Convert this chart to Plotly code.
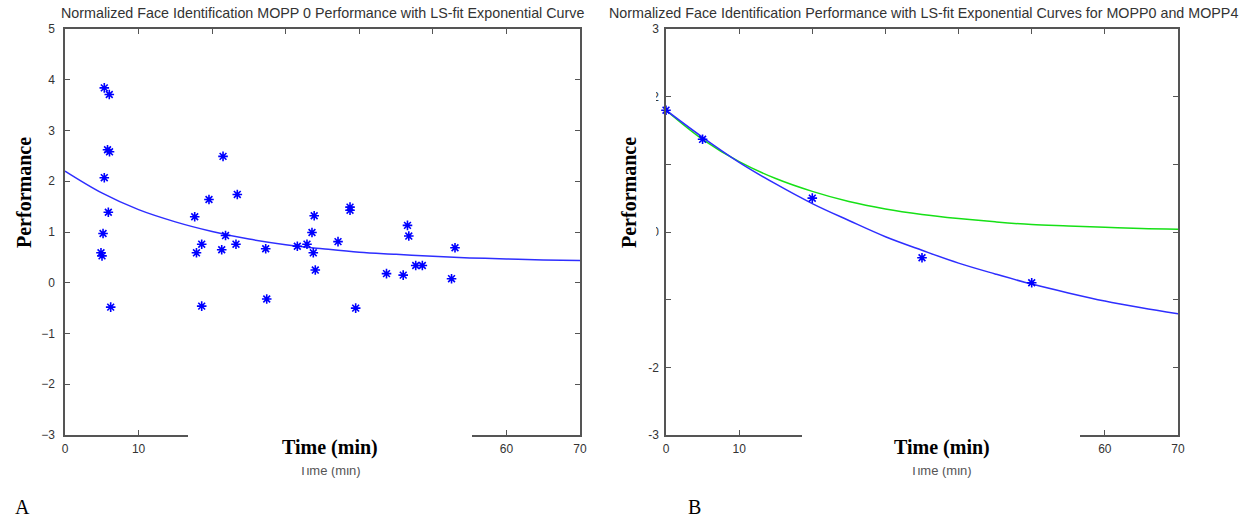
import plotly.graph_objects as go

# ---------------- data ----------------
# Panel A: MOPP 0 normalized performance vs time
a_time = [5.34, 6.02, 5.78, 6.05, 5.34, 5.89, 5.17, 4.89, 5.03, 6.21,
          17.63, 17.87, 18.58, 18.58, 19.57, 21.48, 21.82, 21.30, 23.24, 23.42,
          27.28, 27.42, 31.58, 32.89, 33.57, 33.87, 33.75, 34.02, 37.11, 38.74,
          38.74, 39.51, 43.70, 45.97, 46.55, 46.73, 47.67, 48.57, 52.54, 53.01]
a_perf = [3.84, 3.71, 2.62, 2.58, 2.07, 1.39, 0.97, 0.59, 0.53, -0.48,
          1.30, 0.59, 0.76, -0.46, 1.64, 2.49, 0.93, 0.65, 0.76, 1.74,
          0.67, -0.32, 0.72, 0.76, 0.99, 1.32, 0.59, 0.25, 0.81, 1.49,
          1.43, -0.50, 0.18, 0.15, 1.13, 0.92, 0.34, 0.34, 0.08, 0.69]

# fitted-curve values every 5 minutes
curve_time = [0, 5, 10, 15, 20, 25, 30, 35, 40, 45, 50, 55, 60, 65, 70]
a_fit = [2.20, 1.77, 1.44, 1.20, 1.01, 0.86, 0.75, 0.67, 0.60, 0.56,
         0.52, 0.49, 0.47, 0.45, 0.44]

# Panel B: MOPP0 / MOPP4 curves
b_time = [0, 5, 20, 35, 50]
b_perf = [1.80, 1.37, 0.50, -0.38, -0.75]
b_fit_blue = [1.80, 1.40, 1.03, 0.71, 0.42, 0.17, -0.07, -0.27, -0.46,
              -0.62, -0.77, -0.90, -1.02, -1.12, -1.21]
b_fit_green = [1.80, 1.37, 1.04, 0.79, 0.60, 0.45, 0.34, 0.26, 0.20,
               0.15, 0.11, 0.09, 0.07, 0.05, 0.04]

x_ticks = [0, 10, 20, 30, 40, 50, 60, 70]
x_ticktext = ["0", "10", "", "", "", "", "60", "70"]
a_yticks = [-3, -2, -1, 0, 1, 2, 3, 4, 5]
b_yticks = [-3, -2, -1, 0, 1, 2, 3]
b_yticktext = ["-3", "-2", "", "0", "", "2", "3"]

title_a = "Normalized Face Identification MOPP 0 Performance with LS-fit Exponential Curve"
title_b = "Normalized Face Identification Performance with LS-fit Exponential Curves for MOPP0 and MOPP4"

# ---------------- layout helpers ----------------
W, H = 1242, 519
def px(x):
    return x / W
def py(y):
    return 1 - y / H

BLUE = "#0000ff"
BLUE_LINE = "#2e2eff"
GREEN_LINE = "#16e016"
AX = "#555555"
TXT = "#333333"
SANS = "Liberation Sans, Arial, sans-serif"
SERIF = "Liberation Serif, Times New Roman, serif"

fig = go.Figure()

fig.add_trace(go.Scatter(x=curve_time, y=a_fit, mode="lines", line=dict(color=BLUE_LINE, width=1.5, shape="spline"),
                         xaxis="x", yaxis="y", showlegend=False, hoverinfo="skip"))
fig.add_trace(go.Scatter(x=a_time, y=a_perf, mode="markers",
                         marker=dict(symbol="asterisk-open", size=8, color=BLUE, line=dict(color=BLUE, width=1.6)),
                         xaxis="x", yaxis="y", showlegend=False, cliponaxis=False))

fig.add_trace(go.Scatter(x=curve_time, y=b_fit_green, mode="lines", line=dict(color=GREEN_LINE, width=1.5, shape="spline"),
                         xaxis="x2", yaxis="y2", showlegend=False))
fig.add_trace(go.Scatter(x=curve_time, y=b_fit_blue, mode="lines", line=dict(color=BLUE_LINE, width=1.5, shape="spline"),
                         xaxis="x2", yaxis="y2", showlegend=False))
fig.add_trace(go.Scatter(x=b_time, y=b_perf, mode="markers",
                         marker=dict(symbol="asterisk-open", size=8, color=BLUE, line=dict(color=BLUE, width=1.6)),
                         xaxis="x2", yaxis="y2", showlegend=False, cliponaxis=False))

axis_common = dict(showline=True, linecolor=AX, linewidth=1.6, mirror="ticks", ticks="inside",
                   ticklen=5, tickwidth=1, tickcolor=AX, showgrid=False, zeroline=False,
                   tickfont=dict(family=SANS, size=12, color=TXT), fixedrange=True, automargin=False)

y_dom = [py(435), py(29)]
fig.update_layout(
    width=W, height=H, margin=dict(l=0, r=0, t=0, b=0, autoexpand=False),
    paper_bgcolor="white", plot_bgcolor="white",
    xaxis=dict(domain=[px(65), px(580)], range=[0, 70], tickvals=x_ticks, ticktext=x_ticktext,
               anchor="y", ticklabelstandoff=2, **axis_common),
    yaxis=dict(domain=y_dom, range=[-3, 5], tickvals=a_yticks, anchor="x", ticklabelstandoff=6, **axis_common),
    xaxis2=dict(domain=[px(666), px(1178)], range=[0, 70], tickvals=x_ticks, ticktext=x_ticktext,
                anchor="y2", ticklabelstandoff=2, **axis_common),
    yaxis2=dict(domain=y_dom, range=[-3, 3], tickvals=b_yticks, ticktext=b_yticktext, anchor="x2",
                ticklabelstandoff=3, **axis_common),
)

ann = []
def text(x, y, s, size, family=SANS, color=TXT, angle=0, **kw):
    ann.append(dict(x=px(x), y=py(y), xref="paper", yref="paper", text=s, showarrow=False,
                    xanchor="center", yanchor="middle", textangle=angle,
                    font=dict(family=family, size=size, color=color), **kw))

def box(x0, y0, x1, y1):
    ann.append(dict(x=px((x0 + x1) / 2), y=py((y0 + y1) / 2), xref="paper", yref="paper", text=" ",
                    showarrow=False, xanchor="center", yanchor="middle",
                    width=x1 - x0, height=y1 - y0, bgcolor="white", borderpad=0, borderwidth=0,
                    font=dict(size=2)))

# titles
text(322, 13, title_a, 14.3)
text(923, 13, title_b, 14.3)

# original small x labels (partly hidden)
text(330, 470, "Time (min)", 13, color="#555555")
text(941, 470, "Time (min)", 13, color="#555555")

# white cover boxes
box(188, 420, 472, 467)
box(802, 420, 1080, 467)
box(600, 60, 656, 322)

# overlaid bold labels
text(330, 447, "<b>Time (min)</b>", 20, family=SERIF, color="black")
text(942, 447, "<b>Time (min)</b>", 20, family=SERIF, color="black")
text(24, 193, "<b>Performance</b>", 20, family=SERIF, color="black", angle=-90)
text(629, 193, "<b>Performance</b>", 20, family=SERIF, color="black", angle=-90)

# panel letters
text(22, 507, "A", 20, family=SERIF, color="black")
text(694, 507, "B", 20, family=SERIF, color="black")

fig.update_layout(annotations=ann)
fig.write_html("out.html", config={"displayModeBar": False, "staticPlot": True},
               post_script="document.body.style.margin='0';document.body.style.overflow='hidden';")
